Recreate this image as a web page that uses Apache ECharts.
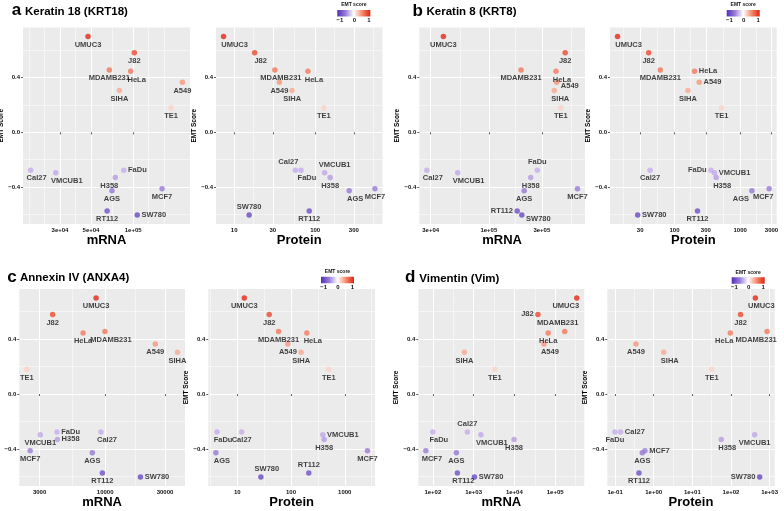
<!DOCTYPE html>
<html>
<head>
<meta charset="utf-8">
<script src="https://cdn.jsdelivr.net/npm/echarts@6/dist/echarts.min.js"></script>
<style>
html, body { margin: 0; padding: 0; background: #fff; }
#chart { width: 784px; height: 511px; }
</style>
</head>
<body>
<div id="chart"></div>
<script>
// cell lines, same order in every array below
var cells = ['UMUC3', 'J82', 'MDAMB231', 'HeLa', 'A549', 'SIHA', 'TE1', 'Cal27', 'FaDu', 'VMCUB1', 'H358', 'AGS', 'MCF7', 'RT112', 'SW780'];
var emtScore = [0.70, 0.58, 0.455, 0.445, 0.365, 0.305, 0.18, -0.276, -0.276, -0.296, -0.33, -0.427, -0.412, -0.575, -0.604];

var krt18Mrna = [47600, 102000, 67600, 96000, 225000, 79800, 187000, 18500, 85700, 28000, 74600, 70600, 161000, 65200, 107000];
var krt18Protein = [7.4, 17.9, 31.8, 81.4, 36.2, 51.9, 128, 56.9, 66.8, 131, 153, 263, 547, 84.5, 15.3];
var krt8Mrna = [39000, 486000, 195000, 402000, 407000, 388000, 445000, 27700, 273000, 52500, 238000, 208000, 627000, 180000, 198000];
var krt8Protein = [13.6, 40.4, 60.8, 202, 238, 160, 520, 42.5, 359, 406, 431, 1507, 2760, 224, 27.5];
var anxa4Mrna = [8460, 3815, 9960, 6670, 25100, 37700, 2375, 9260, 4130, 3040, 4160, 7900, 2525, 9500, 19100];
var anxa4Protein = [13.5, 39.3, 58.7, 197, 87.3, 154, 505, 12.1, 4.2, 390, 413, 4.0, 2640, 214, 27.5];
var vimMrna = [339000, 37900, 172000, 67400, 53000, 593, 3330, 702, 100, 1510, 9830, 377, 67.4, 400, 1050];
var vimProtein = [428, 177, 861, 96, 0.347, 1.82, 32, 0.139, 0.099, 410, 56, 0.506, 0.594, 0.415, 553];

// tick values and labels
var emtTicks = [-0.4, 0, 0.4];
var emtTickLabels = ['\u22120.4', '0.0', '0.4'];
var krt18MrnaTicks = [3e4, 5e4, 1e5];
var krt18MrnaTickLabels = ['3e+04', '5e+04', '1e+05'];
var krt18ProteinTicks = [10, 30, 100, 300];
var krt18ProteinTickLabels = ['10', '30', '100', '300'];
var krt8MrnaTicks = [3e4, 1e5, 3e5];
var krt8MrnaTickLabels = ['3e+04', '1e+05', '3e+05'];
var krt8ProteinTicks = [30, 100, 300, 1000, 3000];
var krt8ProteinTickLabels = ['30', '100', '300', '1000', '3000'];
var anxa4MrnaTicks = [3000, 10000, 30000];
var anxa4MrnaTickLabels = ['3000', '10000', '30000'];
var anxa4ProteinTicks = [10, 100, 1000];
var anxa4ProteinTickLabels = ['10', '100', '1000'];
var vimMrnaTicks = [1e2, 1e3, 1e4, 1e5];
var vimMrnaTickLabels = ['1e+02', '1e+03', '1e+04', '1e+05'];
var vimProteinTicks = [1e-1, 1, 10, 100, 1000];
var vimProteinTickLabels = ['1e-01', '1e+00', '1e+01', '1e+02', '1e+03'];

// label placement per point (style only)
var krt18MrnaPlace = ['b', 'b', 'b', 'br', 'b', 'b', 'b', 'br', 'r', 'brr', 'bl', 'b', 'b', 'b', 'r'];
var krt18ProteinPlace = ['brr', 'br', 'br', 'br', 'b', 'b', 'b', 'tl', 'br', 'trr', 'b', 'br', 'b', 'b', 't'];
var krt8MrnaPlace = ['b', 'b', 'b', 'br', 'rd', 'br', 'b', 'br', 't', 'brr', 'b', 'b', 'b', 'l', 'rd'];
var krt8ProteinPlace = ['brr', 'b', 'b', 'r', 'r', 'b', 'b', 'b', 'l', 'r', 'br', 'bll', 'bl', 'b', 'r'];
var anxa4MrnaPlace = ['b', 'b', 'br', 'b', 'b', 'b', 'b', 'br', 'r', 'b', 'r', 'b', 'b', 'b', 'r'];
var anxa4ProteinPlace = ['b', 'b', 'b', 'br', 'b', 'b', 'b', 'b', 'br', 'r', 'b', 'br', 'b', 't', 'tr'];
var vimMrnaPlace = ['bll', 'l', 'tl', 'b', 'br', 'b', 'b', 't', 'br', 'brr', 'b', 'b', 'br', 'br', 'r'];
var vimProteinPlace = ['br', 'b', 'bll', 'bl', 'b', 'br', 'b', 'r', 'b', 'b', 'br', 'b', 'r', 'b', 'l'];

var FONT = '"Liberation Sans", Arial, sans-serif';

var panels = [
    { x: krt18Mrna, ticks: krt18MrnaTicks, labels: krt18MrnaTickLabels, name: 'mRNA', box: [23, 27.5, 167, 196.5], place: krt18MrnaPlace },
    { x: krt18Protein, ticks: krt18ProteinTicks, labels: krt18ProteinTickLabels, name: 'Protein', box: [216, 27.5, 166.5, 196.5], place: krt18ProteinPlace },
    { x: krt8Mrna, ticks: krt8MrnaTicks, labels: krt8MrnaTickLabels, name: 'mRNA', box: [419.3, 27.5, 165.7, 196.5], place: krt8MrnaPlace },
    { x: krt8Protein, ticks: krt8ProteinTicks, labels: krt8ProteinTickLabels, name: 'Protein', box: [610, 27.5, 166.7, 196.5], place: krt8ProteinPlace },
    { x: anxa4Mrna, ticks: anxa4MrnaTicks, labels: anxa4MrnaTickLabels, name: 'mRNA', box: [19.3, 289, 165.7, 197], place: anxa4MrnaPlace },
    { x: anxa4Protein, ticks: anxa4ProteinTicks, labels: anxa4ProteinTickLabels, name: 'Protein', box: [208.3, 289, 166.7, 197], place: anxa4ProteinPlace },
    { x: vimMrna, ticks: vimMrnaTicks, labels: vimMrnaTickLabels, name: 'mRNA', box: [418.3, 289, 166, 197], place: vimMrnaPlace },
    { x: vimProtein, ticks: vimProteinTicks, labels: vimProteinTickLabels, name: 'Protein', box: [607.3, 289, 167.4, 197], place: vimProteinPlace }
];

// ggplot style: limits = data range expanded by 5%
function expand(vals) {
    var lo = Math.min.apply(null, vals), hi = Math.max.apply(null, vals), pad = (hi - lo) * 0.05;
    return [lo - pad, hi + pad];
}
// ggplot regular_minor_breaks, in transformed space
function minorBreaks(major, lo, hi) {
    var b = major.slice(), bd = b[1] - b[0], out = [];
    if (lo < b[0]) b.unshift(b[0] - bd);
    if (hi > b[b.length - 1]) b.push(b[b.length - 1] + bd);
    for (var i = 0; i < b.length - 1; i++) {
        out.push(b[i], (b[i] + b[i + 1]) / 2);
    }
    out.push(b[b.length - 1]);
    return out.filter(function (v) {
        var isMajor = major.some(function (m) { return Math.abs(m - v) < 1e-9; });
        return !isMajor && v > lo && v < hi;
    });
}

var offsets = { b: ['bottom', 0, 0], br: ['bottom', 6, 0], brr: ['bottom', 11, 0], bl: ['bottom', -6, 0], bll: ['bottom', -11, 0],
    t: ['top', 0, 0], tr: ['top', 6, 0], trr: ['top', 10, 0], tl: ['top', -7, 0], r: ['right', 0, 0], rd: ['right', 0, 3.5], l: ['left', 0, 0] };

var tickStyle = { color: '#333', width: 0.8 };
var yExt = expand(emtScore);
var yMinor = minorBreaks(emtTicks, yExt[0], yExt[1]);

var grids = [], xAxes = [], yAxes = [], series = [];
panels.forEach(function (p, i) {
    grids.push({ left: p.box[0], top: p.box[1], width: p.box[2], height: p.box[3], show: true,
        backgroundColor: '#EBEBEB', borderWidth: 0, containLabel: false, outerBoundsMode: 'none' });

    var lx = expand(p.x.map(Math.log10));
    var xmin = Math.pow(10, lx[0]), xmax = Math.pow(10, lx[1]);
    var xMinor = minorBreaks(p.ticks.map(Math.log10), lx[0], lx[1]).map(function (v) { return Math.pow(10, v); });

    xAxes.push({
        gridIndex: i, type: 'log', logBase: 10, min: xmin, max: xmax, position: 'bottom',
        name: p.name, nameLocation: 'middle', nameGap: 10,
        nameTextStyle: { fontSize: 13, fontWeight: 'bold', color: '#000', fontFamily: FONT },
        axisLine: { show: false },
        axisTick: { show: true, customValues: p.ticks, length: 2, lineStyle: tickStyle },
        axisLabel: { customValues: p.ticks, margin: 3, fontSize: 6, fontWeight: 'bold', color: '#111', fontFamily: FONT,
            formatter: function (v) { var k = p.ticks.indexOf(v); return k >= 0 ? p.labels[k] : ''; } },
        splitLine: { show: true, lineStyle: { color: '#ffffff', width: 1 } }
    });
    xAxes.push({
        gridIndex: i, type: 'log', logBase: 10, min: xmin, max: xmax, position: 'top',
        axisLine: { show: false }, axisTick: { show: false, customValues: xMinor }, axisLabel: { show: false },
        splitLine: { show: true, lineStyle: { color: '#ffffff', width: 0.5 } }
    });
    yAxes.push({
        gridIndex: i, type: 'value', min: yExt[0], max: yExt[1], position: 'left',
        name: 'EMT Score', nameLocation: 'middle', nameGap: 9, nameRotate: 90,
        nameTextStyle: { fontSize: 6.5, fontWeight: 'bold', color: '#000', fontFamily: FONT },
        axisLine: { show: false },
        axisTick: { show: true, customValues: emtTicks, length: 2, lineStyle: tickStyle },
        axisLabel: { customValues: emtTicks, margin: 3, fontSize: 6, fontWeight: 'bold', color: '#111', fontFamily: FONT,
            formatter: function (v) {
                var k = emtTicks.indexOf(v);
                return k >= 0 ? emtTickLabels[k] : '';
            } },
        splitLine: { show: true, lineStyle: { color: '#ffffff', width: 1 } }
    });
    yAxes.push({
        gridIndex: i, type: 'value', min: yExt[0], max: yExt[1], position: 'right',
        axisLine: { show: false }, axisTick: { show: false, customValues: yMinor }, axisLabel: { show: false },
        splitLine: { show: true, lineStyle: { color: '#ffffff', width: 0.5 } }
    });

    series.push({
        type: 'scatter', xAxisIndex: 2 * i, yAxisIndex: 2 * i, symbolSize: 5.5,
        data: cells.map(function (c, k) {
            var o = offsets[p.place[k]];
            return { name: c, value: [p.x[k], emtScore[k]], label: { position: o[0], offset: [o[1], o[2]] } };
        }),
        label: { show: true, formatter: '{b}', distance: 1.5, fontSize: 7.5, fontWeight: 'bold', color: '#111', fontFamily: FONT },
        emphasis: { disabled: true },
        silent: true
    });
});

// panel titles
var titleSpecs = [
    { letter: 'a', text: 'Keratin 18 (KRT18)', lx: 11.7, tx: 25, base: 15 },
    { letter: 'b', text: 'Keratin 8 (KRT8)', lx: 412.5, tx: 426.5, base: 15.5 },
    { letter: 'c', text: 'Annexin IV (ANXA4)', lx: 7.3, tx: 20, base: 281.7 },
    { letter: 'd', text: 'Vimentin (Vim)', lx: 405, tx: 419.3, base: 282 }
];
var graphics = [];
titleSpecs.forEach(function (t) {
    graphics.push({ type: 'text', left: t.lx, top: t.base - 13, style: { text: t.letter, font: 'bold 17px ' + FONT, fill: '#000' } });
    graphics.push({ type: 'text', left: t.tx, top: t.base - 9.6, style: { text: t.text, font: 'bold 11.5px ' + FONT, fill: '#000' } });
});

// EMT score colour bars
function colourBar(x, y) {
    var lab = { font: 'bold 6px ' + FONT, fill: '#111', align: 'center', verticalAlign: 'top' };
    return {
        type: 'group', x: x, y: y, children: [
            { type: 'text', x: 16.5, y: -7.5, style: { text: 'EMT score', font: 'bold 5px ' + FONT, fill: '#111', align: 'center', verticalAlign: 'top' } },
            { type: 'rect', shape: { x: 0, y: 0, width: 33, height: 6.5 },
                style: { fill: new echarts.graphic.LinearGradient(0, 0, 1, 0, [
                    { offset: 0, color: '#5030BC' }, { offset: 0.25, color: '#9A7ED6' }, { offset: 0.5, color: '#FFFFFF' },
                    { offset: 0.75, color: '#F48D71' }, { offset: 1, color: '#E2220F' }]) } },
            { type: 'text', x: 2.7, y: 7.2, style: Object.assign({ text: '\u22121' }, lab) },
            { type: 'text', x: 17, y: 7.2, style: Object.assign({ text: '0' }, lab) },
            { type: 'text', x: 31.5, y: 7.2, style: Object.assign({ text: '1' }, lab) }
        ]
    };
}
graphics.push(colourBar(337.3, 10), colourBar(726.7, 10), colourBar(321, 276.7), colourBar(731.7, 277.3));

var chart = echarts.init(document.getElementById('chart'), null, { renderer: 'canvas' });
chart.setOption({
    animation: false,
    backgroundColor: '#ffffff',
    textStyle: { fontFamily: FONT },
    grid: grids,
    xAxis: xAxes,
    yAxis: yAxes,
    visualMap: {
        type: 'continuous', show: false, dimension: 1, min: -0.7, max: 0.7,
        inRange: { color: ['#5A38BF', '#6A4AC4', '#8062CE', '#9E80D8', '#C0A6E9', '#D6C4F2', '#EBE2F9', '#FFFFFF',
            '#FDE6DE', '#FBCDBD', '#F8AC94', '#F48B6E', '#F06848', '#EA4427', '#E2281A'] }
    },
    graphic: graphics,
    series: series
});
</script>
</body>
</html>
